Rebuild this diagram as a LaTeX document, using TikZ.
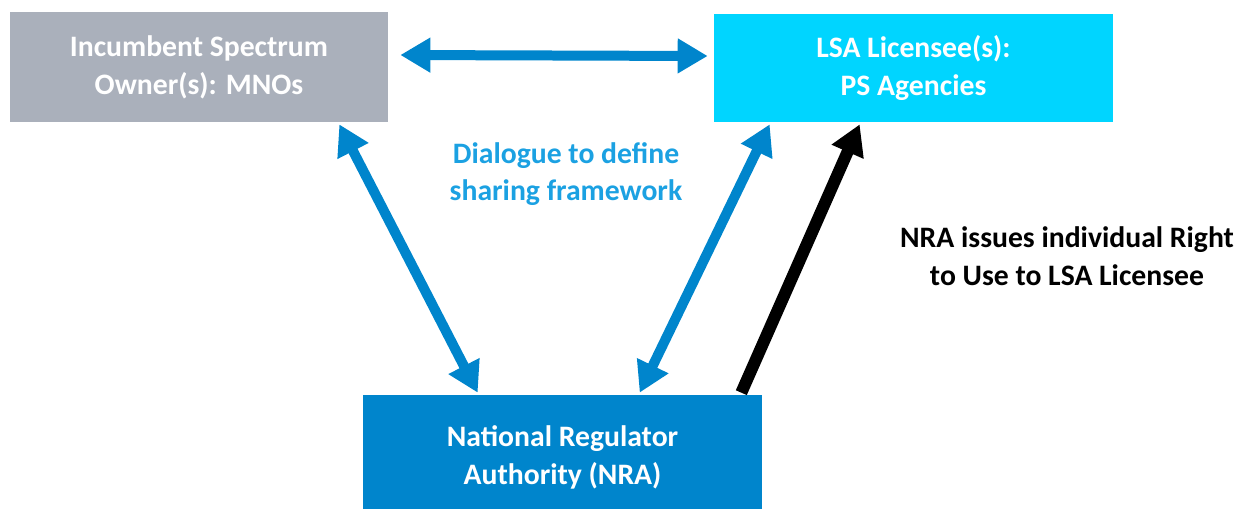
\documentclass[tikz,border=0pt]{standalone}
\usepackage{fontspec}
\setmainfont{Carlito}
\usepackage{tikz}
\usetikzlibrary{arrows.meta}
\usetikzlibrary{calc}
\definecolor{ownergray}{HTML}{AAB0BB}
\definecolor{lsacyan}{HTML}{00D5FF}
\definecolor{nrablue}{HTML}{0085CC}
\definecolor{talkblue}{HTML}{1BA1E2}

\begin{document}
\begin{tikzpicture}[x=0.02cm,y=-0.02cm,
    >={Triangle[length=0.6cm,width=0.66cm]},
    box/.style={inner sep=0pt,align=center,text=white,
        font=\bfseries\fontsize{16.9}{21.5}\selectfont},
    lbl/.style={align=center,font=\bfseries\fontsize{16.9}{21.5}\selectfont},
    link/.style={draw=nrablue,line width=0.2cm,<->}]
    \useasboundingbox (0,0) rectangle (1235,508);
    \node[box,fill=ownergray,minimum width=7.56cm,minimum height=2.2cm]
        (owner) at (199,67) {Incumbent Spectrum\\Owner(s): MNOs};
    \node[box,fill=lsacyan,minimum width=7.98cm,minimum height=2.16cm]
        (lsa) at (913.5,68) {LSA Licensee(s):\\PS Agencies};
    \node[box,fill=nrablue,minimum width=7.98cm,minimum height=2.48cm]
        (nra) at (562.5,457) {National Regulator\\Authority (NRA)};
    \node[lbl,text=talkblue] (talk) at (566,174) {Dialogue to define\\sharing framework};
    \node[lbl] (grant) at (1067,256) {NRA issues individual Right\\to Use to LSA Licensee};
    \draw[link]($(owner.east)+(12,-12)$)--($(lsa.west)+(-6,-12)$);
    \foreach \i/\p/\j/\q in {%
        owner.south east/{-49,2}/nra.north west/{115,-2},
        lsa.south west/{56,2}/nra.north west/{277,-2}}
        \draw[link]($(\i)+(\p)$)--($(\j)+(\q)$);
    \draw[->,line width=0.24cm]($(nra.north east)+(-21,-2)$)--($(lsa.south west)+(146,2)$);
\end{tikzpicture}
\end{document}
